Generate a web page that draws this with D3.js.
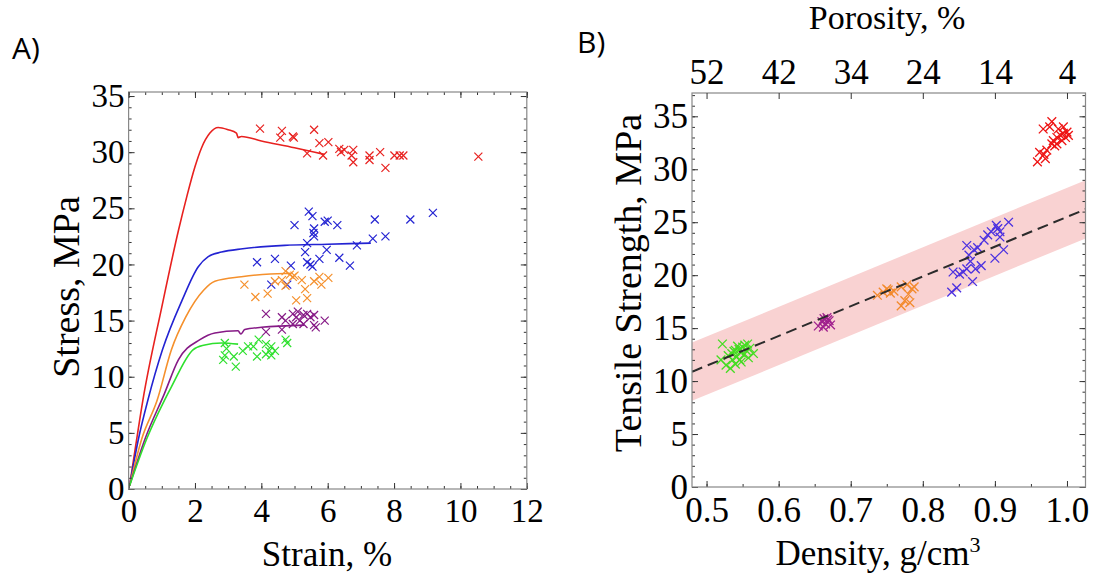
<!DOCTYPE html>
<html>
<head>
<meta charset="utf-8">
<script src="https://cdn.jsdelivr.net/npm/d3@7"></script>
<style>
  body { margin: 0; background: #fff; }
  svg { display: block; }
  text { font-family: "Liberation Serif", "Times New Roman", serif; fill: #000; }
  .tag { font-family: "Open Sans", "Liberation Sans", sans-serif; }
</style>
</head>
<body>
<script>
let width = 1101,
    height = 577;

// ---- panel A: stress-strain curves [strain %, stress MPa]
let curveRed = [[0.03,0.3],[0.2,3.6],[0.43,7.9],[1.0,16.2],[1.5,23],[1.75,26],[2.0,28.7],[2.2,30.4],[2.45,31.7],[2.7,32.2],[3.0,32.0],[3.25,31.7],[3.3,31.3],[3.4,31.4],[4.0,31.0],[5.0,30.4],[5.9,29.8]];
let curveBlue = [[0.03,0.3],[0.3,4.5],[0.58,7.9],[1.02,12.4],[1.61,16.8],[2.1,19.8],[2.4,20.7],[2.8,21.1],[3.44,21.4],[4.7,21.7],[6.0,21.8],[7.3,21.9]];
let curveOrange = [[0.03,0.3],[0.4,4.5],[0.86,7.9],[1.29,12.4],[1.72,15.3],[2.26,17.7],[2.6,18.5],[3.4,18.9],[4.7,19.2],[4.9,19.2]];
let curvePurple = [[0.03,0.3],[0.5,4.5],[1.08,8.5],[1.5,11.5],[2.15,13.3],[2.6,13.9],[3.3,14.1],[3.38,13.8],[3.5,14.2],[4.0,14.4],[5.3,14.6]];
let curveGreen = [[0.03,0.3],[0.55,4.5],[1.08,7.9],[1.29,9.1],[1.94,12.4],[2.26,12.8],[2.8,13.0],[3.3,12.9]];

// ---- panel A: failure points [strain %, stress MPa]
let failRed = [[3.96,32.1],[4.62,31.9],[4.57,31.3],[4.95,31.4],[4.98,31.3],[5.59,32.0],[5.38,29.9],[5.75,30.8],[6.02,30.9],[5.86,29.7],[6.35,30.3],[6.40,30.0],[6.5,30.2],[6.77,30.2],[6.77,29.1],[6.72,29.7],[7.26,29.7],[7.26,29.3],[7.58,30.0],[7.74,28.6],[8.01,29.7],[8.17,29.7],[8.28,29.7],[10.54,29.6]];
let failBlue = [[5.43,24.7],[5.54,24.3],[5.0,23.5],[5.59,23.2],[5.91,23.8],[6.0,23.9],[6.29,23.5],[7.42,24.0],[8.49,24.0],[9.17,24.6],[5.57,22.8],[5.59,22.5],[5.38,21.9],[7.36,22.3],[7.74,22.5],[6.88,21.7],[5.32,21.1],[5.97,21.3],[5.75,20.5],[6.35,20.6],[5.38,20.2],[5.48,20.0],[5.54,19.8],[3.87,20.2],[4.41,20.5],[4.89,19.9],[6.67,19.9],[4.3,18.2],[4.78,18.2]];
let failOrange = [[4.73,19.4],[4.86,19.1],[4.95,18.9],[5.22,18.6],[4.62,18.6],[4.41,18.5],[4.73,18.1],[3.49,18.2],[3.82,17.1],[4.19,17.4],[5.05,16.8],[5.38,17.0],[5.32,17.8],[5.59,18.5],[5.75,18.9],[5.81,18.2],[6.02,18.8],[5.0,19.0]];
let failPurple = [[4.14,15.6],[4.14,14.0],[4.62,15.3],[4.62,14.2],[4.73,15.0],[4.95,15.6],[5.05,15.3],[5.16,15.0],[5.27,15.5],[5.38,15.6],[5.48,15.3],[5.59,15.5],[5.59,14.6],[5.64,14.4],[5.91,15.0],[4.95,14.7],[5.27,14.7],[5.1,15.8]];
let failGreen = [[2.9,13.0],[2.95,12.5],[2.85,11.5],[2.9,11.9],[3.17,11.8],[3.23,10.9],[3.44,12.3],[3.6,12.7],[3.87,11.8],[3.92,13.3],[4.14,12.9],[4.24,12.3],[4.3,12.7],[4.41,12.3],[4.3,11.9],[4.14,12.0],[4.73,13.3],[4.78,13.0],[3.76,12.7]];

// ---- panel B: strength vs density [g/cm3, MPa]
let densRed = [[0.959,30.7],[0.962,31.6],[0.968,31.4],[0.972,31.8],[0.979,32.4],[0.981,32.7],[0.986,33.0],[0.991,33.2],[0.995,33.4],[1.0,33.5],[0.998,33.0],[0.993,32.7],[0.986,32.4],[0.979,34.5],[0.976,34.0],[0.967,33.8],[0.988,33.8],[0.995,34.0],[1.002,33.2],[0.970,31.0],[0.983,32.2]];
let densBlue = [[0.84,18.4],[0.847,18.8],[0.842,20.3],[0.851,20.1],[0.856,20.3],[0.861,20.6],[0.869,19.4],[0.866,21.3],[0.864,21.9],[0.871,22.4],[0.861,22.8],[0.876,22.6],[0.881,20.9],[0.885,23.3],[0.89,23.8],[0.895,24.1],[0.902,24.7],[0.904,24.4],[0.907,24.1],[0.919,25.0],[0.912,22.4],[0.9,21.6],[0.907,23.6],[0.873,20.6]];
let densOrange = [[0.737,18.1],[0.745,18.4],[0.750,18.7],[0.755,18.3],[0.752,18.6],[0.770,18.9],[0.778,19.1],[0.785,18.7],[0.780,18.2],[0.775,17.6],[0.770,17.1],[0.782,17.4],[0.760,18.5],[0.788,18.9]];
let densPurple = [[0.655,15.2],[0.660,15.6],[0.663,15.9],[0.665,15.4],[0.667,16.0],[0.670,15.7],[0.662,15.1],[0.672,15.3],[0.668,15.8]];
let densGreen = [[0.522,13.5],[0.520,12.0],[0.527,11.5],[0.530,12.4],[0.533,11.2],[0.536,12.0],[0.538,12.8],[0.540,11.6],[0.542,12.3],[0.545,13.0],[0.546,12.0],[0.548,12.7],[0.550,13.2],[0.552,12.5],[0.553,13.4],[0.555,12.9],[0.557,13.5],[0.558,12.2],[0.560,13.1],[0.548,11.8],[0.540,12.9],[0.565,12.6],[0.535,12.6],[0.543,13.3]];

// linear fit and its band: [slope, intercept, half width]
let fitParams = [28.1, -2.6, 2.75];

// tick labels
let strainTicks = [0, 2, 4, 6, 8, 10, 12];
let stressTicks = [0, 5, 10, 15, 20, 25, 30, 35];
let densityTicks = [0.5, 0.6, 0.7, 0.8, 0.9, 1.0];
let porosityLabels = [52, 42, 34, 24, 14, 4];

let colors = {red: "#e8211f", blue: "#2323d2", orange: "#f5902c", purple: "#861a86", green: "#2ee02e"};
let colorsB = {red: "#ee1414", blue: "#4b30e0", orange: "#f38a2c", purple: "#a0208e", green: "#44dc22"};

let svg = d3.select("body")
            .append("svg")
            .attr("width", width)
            .attr("height", height);

svg.append("rect").attr("width", width).attr("height", height).attr("fill", "#fff");

// x-shaped marker
let xMark = {
    draw: function(ctx, size) {
        let r = Math.sqrt(size) / 2;
        ctx.moveTo(-r, -r); ctx.lineTo(r, r);
        ctx.moveTo(-r, r); ctx.lineTo(r, -r);
    }
};

function frameAxes(g, x, y, opt) {
    let [x0, x1] = x.range(), [y0, y1] = y.range();
    // minor ticks
    g.append("g").attr("transform", `translate(0,${y0})`)
        .call(d3.axisBottom(x).tickValues(opt.xMinor).tickSize(-3).tickSizeOuter(0).tickFormat(""));
    g.append("g").attr("transform", `translate(${x0},0)`)
        .call(d3.axisLeft(y).tickValues(opt.yMinor).tickSize(-3).tickSizeOuter(0).tickFormat(""));
    g.append("g").attr("transform", `translate(${x1},0)`)
        .call(d3.axisRight(y).tickValues(opt.yMinor).tickSize(-3).tickSizeOuter(0).tickFormat(""));
    if (opt.topMinor) {
        g.append("g").attr("transform", `translate(0,${y1})`)
            .call(d3.axisTop(x).tickValues(opt.xMinor).tickSize(-3).tickSizeOuter(0).tickFormat(""));
    }
    // major ticks with labels
    g.append("g").attr("class", "xa").attr("transform", `translate(0,${y0})`)
        .call(d3.axisBottom(x).tickValues(opt.xTicks).tickSize(-6).tickSizeOuter(0).tickPadding(opt.pad).tickFormat(opt.xFmt));
    g.append("g").attr("class", "ya").attr("transform", `translate(${x0},0)`)
        .call(d3.axisLeft(y).tickValues(opt.yTicks).tickSize(-6).tickSizeOuter(0).tickPadding(4));
    g.append("g").attr("transform", `translate(${x1},0)`)
        .call(d3.axisRight(y).tickValues(opt.yTicks).tickSize(-6).tickSizeOuter(0).tickFormat(""));

    g.selectAll(".domain").remove();
    g.selectAll(".tick line").attr("stroke", "#333").attr("stroke-width", 1);
    g.selectAll(".tick text").style("font-family", "'Liberation Serif', serif").attr("font-size", opt.fs).attr("fill", "#000");

    g.append("rect")
        .attr("x", x0).attr("y", y1)
        .attr("width", x1 - x0).attr("height", y0 - y1)
        .attr("fill", "none").attr("stroke", "#888").attr("stroke-width", 1.2);
}

// ================= Panel A =================
let xA = d3.scaleLinear().domain([0, 12]).range([128.6, 526.8]);
let yA = d3.scaleLinear().domain([0, 35.36]).range([489, 92]);

let gA = svg.append("g");
svg.append("clipPath").attr("id", "clipA").append("rect")
    .attr("x", 128.6).attr("y", 92).attr("width", 398.2).attr("height", 397);

let line = d3.line().x(d => xA(d[0])).y(d => yA(d[1])).curve(d3.curveMonotoneX);

let curves = [[curveRed, "red"], [curveBlue, "blue"], [curveOrange, "orange"], [curvePurple, "purple"], [curveGreen, "green"]];
gA.append("g").attr("clip-path", "url(#clipA)")
    .selectAll("path")
    .data(curves)
    .enter()
    .append("path")
    .attr("d", d => line(d[0]))
    .attr("fill", "none")
    .attr("stroke", d => colors[d[1]])
    .attr("stroke-width", 1.6);

let fails = [[failRed, "red"], [failBlue, "blue"], [failOrange, "orange"], [failPurple, "purple"], [failGreen, "green"]];
let symA = d3.symbol().type(xMark).size(64);
gA.selectAll("g.fail")
    .data(fails)
    .enter()
    .append("g")
    .attr("class", "fail")
    .attr("stroke", d => colors[d[1]])
    .selectAll("path")
    .data(d => d[0])
    .enter()
    .append("path")
    .attr("d", symA)
    .attr("transform", d => `translate(${xA(d[0])},${yA(d[1])})`)
    .attr("fill", "none")
    .attr("stroke-width", 1.2);

frameAxes(gA, xA, yA, {
    xTicks: strainTicks, yTicks: stressTicks,
    xMinor: d3.range(0, 12.01, 0.5), yMinor: d3.range(0, 35.01, 1),
    topMinor: true, pad: 10, fs: 33, xFmt: d3.format("d")
});
gA.append("g").attr("transform", "translate(0,92)")
    .call(d3.axisTop(xA).tickValues(strainTicks).tickSize(-6).tickSizeOuter(0).tickFormat(""))
    .call(g => g.select(".domain").remove())
    .selectAll("line").attr("stroke", "#333");

svg.append("text").attr("x", 327).attr("y", 566).attr("text-anchor", "middle")
    .attr("font-size", 35).text("Strain, %");
svg.append("text").attr("transform", "translate(79,287) rotate(-90)").attr("text-anchor", "middle")
    .attr("font-size", 38).text("Stress, MPa");
svg.append("text").attr("class", "tag").attr("x", 12).attr("y", 59).attr("font-size", 30).text("A)");

// ================= Panel B =================
let xB = d3.scaleLinear().domain([0.4798, 1.0257]).range([692, 1085.5]);
let yB = d3.scaleLinear().domain([0, 37.2]).range([487, 93]);

let gB = svg.append("g");
svg.append("clipPath").attr("id", "clipB").append("rect")
    .attr("x", 692).attr("y", 93).attr("width", 393.5).attr("height", 394);

let [slope, icpt, half] = fitParams;
let fitX = xB.domain();
let band = d3.area()
    .x(d => xB(d))
    .y0(d => yB(slope * d + icpt - half))
    .y1(d => yB(slope * d + icpt + half));
let fit = d3.line().x(d => xB(d)).y(d => yB(slope * d + icpt));

let plotB = gB.append("g").attr("clip-path", "url(#clipB)");
plotB.append("path").attr("d", band(fitX)).attr("fill", "#f9d2d2");

let dens = [[densRed, "red"], [densBlue, "blue"], [densOrange, "orange"], [densPurple, "purple"], [densGreen, "green"]];
let symB = d3.symbol().type(xMark).size(76);
plotB.selectAll("g.pt")
    .data(dens)
    .enter()
    .append("g")
    .attr("class", "pt")
    .attr("stroke", d => colorsB[d[1]])
    .selectAll("path")
    .data(d => d[0])
    .enter()
    .append("path")
    .attr("d", symB)
    .attr("transform", d => `translate(${xB(d[0])},${yB(d[1])})`)
    .attr("fill", "none")
    .attr("stroke-width", 1.3);

plotB.append("path").attr("d", fit(fitX))
    .attr("fill", "none").attr("stroke", "#2b2b2b")
    .attr("stroke-width", 2).attr("stroke-dasharray", "11,6");

frameAxes(gB, xB, yB, {
    xTicks: densityTicks, yTicks: stressTicks,
    xMinor: d3.range(0.5, 1.001, 0.05), yMinor: d3.range(0, 37.01, 1),
    topMinor: false, pad: 10, fs: 35, xFmt: d3.format(".1f")
});
// porosity axis on top, at the same density positions
gB.append("g").attr("transform", "translate(0,93)")
    .call(d3.axisTop(xB).tickValues(densityTicks).tickSize(-6).tickSizeOuter(0).tickPadding(9)
        .tickFormat((d, i) => porosityLabels[i]))
    .call(g => g.select(".domain").remove())
    .call(g => g.selectAll("line").attr("stroke", "#333"))
    .selectAll("text").style("font-family", "'Liberation Serif', serif").attr("font-size", 35).attr("fill", "#000");

svg.append("text").attr("x", 887).attr("y", 29).attr("text-anchor", "middle")
    .attr("font-size", 34).text("Porosity, %");
let dt = svg.append("text").attr("x", 878).attr("y", 565).attr("text-anchor", "middle").attr("font-size", 35);
dt.append("tspan").text("Density, g/cm");
dt.append("tspan").attr("font-size", 22).attr("dy", -13).text("3");
svg.append("text").attr("transform", "translate(641,283) rotate(-90)").attr("text-anchor", "middle")
    .attr("font-size", 38).text("Tensile Strength, MPa");
svg.append("text").attr("class", "tag").attr("x", 577).attr("y", 53).attr("font-size", 30).text("B)");
</script>
</body>
</html>
